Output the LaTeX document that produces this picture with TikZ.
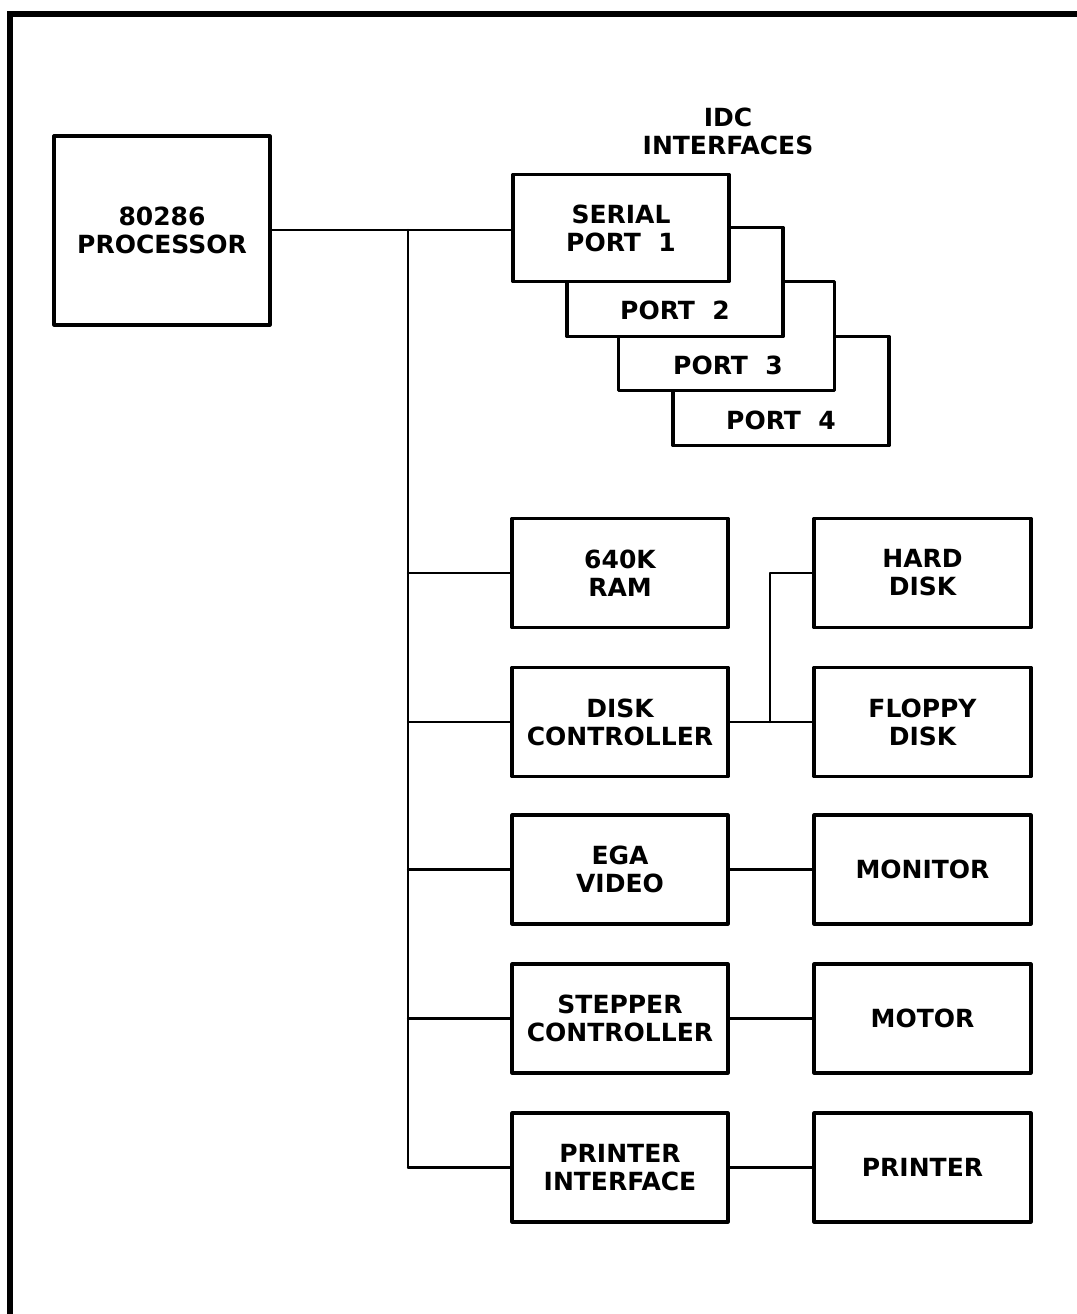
\documentclass[tikz,border=0pt]{standalone}
\usepackage{fontspec}
\newfontfamily\plotfont{DejaVu Sans}
\begin{document}
\begin{tikzpicture}[x=1pt,y=-1pt,
  box/.style={draw,line width=3.2pt,fill=white,align=center,inner sep=0pt,
    font=\plotfont\bfseries\fontsize{25}{28}\selectfont,line join=round},
  lbox/.style={box,minimum width=216pt,minimum height=109pt},
  rbox/.style={box,minimum width=217pt,minimum height=109pt},
  pbox/.style={box,minimum width=216pt,minimum height=109pt},
  lbl/.style={align=center,inner sep=0pt,font=\plotfont\bfseries\fontsize{25}{28}\selectfont},
  conn/.style={line width=2.4pt,line cap=round,line join=round}]
\useasboundingbox (0,0) rectangle (1076,1314);
% frame
\draw[line width=6pt] (10,1320) -- (10,14.5) -- (1080,14.5);
% processor
\node[box,minimum width=216pt,minimum height=189pt] (proc) at (162,230.5) {80286\\PROCESSOR};
% title
\node[lbl] (idc) at (728,131) {IDC\\INTERFACES};
% ports (back to front)
\node[pbox] (p4) at (781,391) {};
\node[lbl] (p4t) at (781,420) {PORT\ \ 4};
\node[pbox] (p3) at (726.5,336) {};
\node[lbl] (p3t) at (728,365) {PORT\ \ 3};
\node[pbox] (p2) at (675,282) {};
\node[lbl] (p2t) at (675,310) {PORT\ \ 2};
\node[pbox,minimum height=107pt] (ser) at (621,228) {SERIAL\\PORT\ \ 1};
% left column
\node[lbox] (ram) at (620,573) {640K\\RAM};
\node[lbox] (ctrl) at (620,722) {DISK\\CONTROLLER};
\node[lbox] (ega) at (620,869.5) {EGA\\VIDEO};
\node[lbox] (step) at (620,1018.5) {STEPPER\\CONTROLLER};
\node[lbox] (prif) at (620,1167.5) {PRINTER\\INTERFACE};
% right column
\node[rbox] (hard) at (922.5,573) {HARD\\DISK};
\node[rbox] (flop) at (922.5,722) {FLOPPY\\DISK};
\node[rbox] (mon) at (922.5,869.5) {MONITOR};
\node[rbox] (mot) at (922.5,1018.5) {MOTOR};
\node[rbox] (prn) at (922.5,1167.5) {PRINTER};
% bus
\coordinate (bt) at (408,230);
\coordinate (bb) at (408,1167.5);
\draw[conn] (proc.east |- bt) -- (bt -| ser.west);
\draw[conn] (bt) -- (bb);
\foreach \n in {ram,ctrl,ega,step,prif}{
  \draw[conn] (\n.west -| bt) -- (\n.west);
}
% disk links
\coordinate (dj) at (770,722);
\draw[conn] (ctrl.east) -- (flop.west);
\draw[conn] (dj) |- (hard.west);
\draw[conn] (ega.east) -- (mon.west);
\draw[conn] (step.east) -- (mot.west);
\draw[conn] (prif.east) -- (prn.west);
\end{tikzpicture}
\end{document}
